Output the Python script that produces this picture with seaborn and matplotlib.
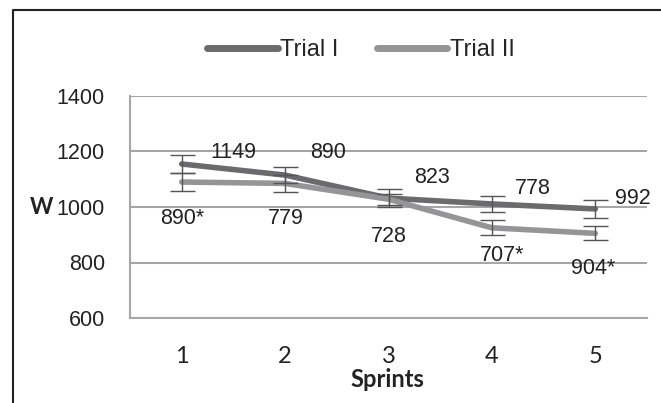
import matplotlib
matplotlib.use("Agg")
import matplotlib.pyplot as plt
from matplotlib.lines import Line2D
import pandas as pd
import seaborn as sns

# Data
sprints = [1, 2, 3, 4, 5]
trial1_mean = [1155, 1115, 1032, 1011, 993]
trial1_err = [33, 30, 33, 29, 31]
trial2_mean = [1090, 1085, 1028, 925, 905]
trial2_err = [32, 31, 20, 27, 25]

# text annotations as printed on the figure
upper_labels = ["1149", "890", "823", "778", "992"]
upper_pos = [(1.50, 1195), (2.42, 1195), (3.42, 1108), (4.40, 1068), (5.36, 1032)]
lower_labels = ["890*", "779", "728", "707*", "904*"]
lower_pos = [(1.00, 957), (2.01, 957), (3.00, 892), (4.10, 827), (4.98, 780)]

colors = {"Trial I": "#6b6b6d", "Trial II": "#959597"}

df = pd.DataFrame({
    "Sprint": sprints * 2,
    "W": trial1_mean + trial2_mean,
    "Trial": ["Trial I"] * 5 + ["Trial II"] * 5,
})

sns.set_style("white")
narrow = ["Liberation Sans", "DejaVu Sans"]
plt.rcParams["font.family"] = narrow
calib = ["Lato", "DejaVu Sans"]

fig = plt.figure(figsize=(6.61, 4.03), dpi=100)
ax = fig.add_axes([130 / 661, 85 / 403, 517 / 661, 222 / 403])

sns.lineplot(data=df, x="Sprint", y="W", hue="Trial", palette=colors,
             linewidth=4, legend=False, ax=ax, solid_capstyle="round")
ax.errorbar(sprints, trial1_mean, yerr=trial1_err, fmt="none",
            ecolor="#555555", elinewidth=1, capsize=9, capthick=1, zorder=5)
ax.errorbar(sprints, trial2_mean, yerr=trial2_err, fmt="none",
            ecolor="#555555", elinewidth=1, capsize=9, capthick=1, zorder=5)

for txt, (x, y) in zip(upper_labels, upper_pos):
    ax.text(x, y, txt, ha="center", va="center", fontsize=15.5, color="#222222")
for txt, (x, y) in zip(lower_labels, lower_pos):
    ax.text(x, y, txt, ha="center", va="center", fontsize=15.5, color="#222222")

ax.set_xlim(0.5, 5.5)
ax.set_ylim(600, 1400)
ax.set_yticks([600, 800, 1000, 1200, 1400])
ax.set_xticks(sprints)
ax.grid(axis="y", color="#a6a6a6", linewidth=1.5)
ax.set_axisbelow(True)
for s in ["top", "right"]:
    ax.spines[s].set_visible(False)
for s in ["left", "bottom"]:
    ax.spines[s].set_color("#a6a6a6")
    ax.spines[s].set_linewidth(1.5)
ax.tick_params(axis="y", length=0, pad=18, labelsize=15.5, labelcolor="#222222")
ax.tick_params(axis="x", length=0, pad=20, labelsize=17, labelcolor="#222222")
for lab in ax.get_xticklabels():
    lab.set_family(calib)

ax.set_xlabel("Sprints", fontsize=17, fontweight="bold", family=calib, color="#222222")
ax.xaxis.set_label_coords(0.497, -0.225)
ax.set_ylabel("W", rotation=0, fontsize=16, fontweight="bold", family=calib,
              color="#222222", va="center", ha="center")
ax.yaxis.set_label_coords(-0.171, 0.5)

handles = [Line2D([0], [0], color=colors[k], lw=5, solid_capstyle="round") for k in colors]
fig.legend(handles, list(colors.keys()), loc="center", bbox_to_anchor=(361 / 661, 1 - 50 / 403),
           ncol=2, frameon=False, fontsize=17, handlelength=3, handletextpad=0.1,
           columnspacing=1.6)

# outer frame (top and left edges visible in the reference)
fig.add_artist(Line2D([13 / 661, 13 / 661, 1.0], [0.0, 1 - 10 / 403, 1 - 10 / 403],
                      color="#222222", lw=1.5, transform=fig.transFigure))

fig.savefig("out.png", dpi=100)
